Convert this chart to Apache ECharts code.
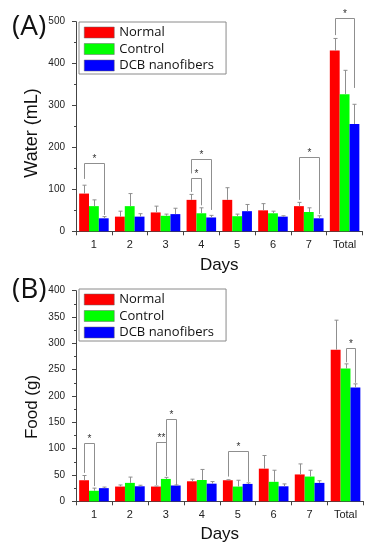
<!DOCTYPE html>
<html>
<head>
<meta charset="utf-8">
<script src="https://cdn.jsdelivr.net/npm/echarts@6/dist/echarts.min.js"></script>
<style>html,body{margin:0;padding:0;background:#fff;}#c{width:378px;height:550px;}</style>
</head>
<body>
<div id="c"></div>
<script>
const categories = ['1','2','3','4','5','6','7','Total'];
const seriesNames = ['Normal','Control','DCB nanofibers'];
const seriesColors = ['#ff0000','#00ff00','#0000ff'];

// (A) Water (mL)
const waterNormal = [90, 35, 45, 75, 75, 50, 60, 431];
const waterNormalSD = [20, 13, 15, 13, 29, 16, 9, 29];
const waterControl = [60, 60, 37, 43, 36, 43, 46, 327];
const waterControlSD = [15, 30, 4, 13, 5, 5, 10, 57];
const waterDCB = [31, 35, 41, 33, 48, 35, 31, 256];
const waterDCBSD = [4, 7, 14, 5, 16, 2, 6, 47];
// significance brackets: [category, fromSeries, toSeries, topValue, leftLegEnd, rightLegEnd]
const waterSig = [[0,0,2,164,125,39],[3,0,1,126,94,62],[3,0,2,172,138,51],[6,0,2,177,75,41],[7,0,2,510,468,342]];
const waterSigLabels = ['*','*','*','*','*'];
const waterTicks = [0, 100, 200, 300, 400, 500];

// (B) Food (g)
const foodNormal = [40, 28, 28, 38, 40, 62, 51, 288];
const foodNormalSD = [9, 3, 1, 4, 1, 25, 20, 56];
const foodControl = [20, 35, 42.5, 40.5, 28, 37, 47, 252];
const foodControlSD = [5, 11, 3, 20, 12, 22, 12, 9];
const foodDCB = [25, 28.5, 30, 33.5, 33, 28.5, 35, 216];
const foodDCBSD = [2, 2, 1, 4, 2, 4.5, 4, 7];
const foodSig = [[0,0,1,110,54,29],[2,0,1,113,31,48],[2,1,2,157,48,31],[4,0,2,96,47,37],[7,1,2,292,264,225]];
const foodSigLabels = ['*','**','*','*','*'];
const foodTicks = [0, 50, 100, 150, 200, 250, 300, 350, 400];

const BAR_FRAC = 0.275;
const chart = echarts.init(document.getElementById('c'), null, {renderer:'canvas'});

function errData(means, sds){
  const d=[];
  means.forEach((m,s)=>{ m.forEach((v,c)=>{ d.push([c, s, v, sds[s][c]]); }); });
  return d;
}
function errRender(params, api){
  const c=api.value(0), s=api.value(1), m=api.value(2), e=api.value(3);
  const bw=api.size([1,0])[0]*BAR_FRAC;
  const p0=api.coord([c,m]), p1=api.coord([c,m+e]);
  const x=Math.round(p0[0]+(s-1)*bw)+0.5;
  const st={stroke:'#8f8f8f', lineWidth:1};
  return {type:'group', children:[
    {type:'line', shape:{x1:x,y1:p0[1],x2:x,y2:p1[1]}, style:st},
    {type:'line', shape:{x1:x-2,y1:p1[1],x2:x+2,y2:p1[1]}, style:st}
  ]};
}
function sigRender(labels){
  return function(params, api){
    const c=api.value(0), f=api.value(1), t=api.value(2), top=api.value(3), lb=api.value(4), rb=api.value(5);
    const bw=api.size([1,0])[0]*BAR_FRAC;
    const pt=api.coord([c,top]);
    const xl=Math.round(pt[0]+(f-1)*bw)+0.5, xr=Math.round(pt[0]+(t-1)*bw)+0.5;
    const yt=Math.round(pt[1])+0.5, yl=api.coord([c,lb])[1], yr=api.coord([c,rb])[1];
    return {type:'group', children:[
      {type:'polyline', shape:{points:[[xl,yl],[xl,yt],[xr,yt],[xr,yr]]}, style:{stroke:'#8f8f8f', lineWidth:1, fill:null}},
      {type:'text', style:{text:labels[params.dataIndex], x:(xl+xr)/2, y:yt+1, align:'center', verticalAlign:'bottom', font:'10px "Liberation Sans"', fill:'#333'}}
    ]};
  };
}

function xAxisCfg(i, gap){
  return {type:'category', gridIndex:i, data:categories,
    name:'Days', nameLocation:'middle', nameGap:gap,
    nameTextStyle:{fontFamily:'Liberation Sans', fontSize:17, color:'#111'},
    axisLine:{lineStyle:{color:'#444', width:1}},
    axisTick:{show:true, alignWithLabel:false, length:4, lineStyle:{color:'#444'}},
    axisLabel:{fontFamily:'Liberation Sans', fontSize:11, color:'#222', margin:8},
    splitLine:{show:false}};
}
function yAxisCfg(i, ticks){
  return {type:'value', gridIndex:i, min:ticks[0], max:ticks[ticks.length-1], interval:ticks[1]-ticks[0],
    axisLine:{show:true, lineStyle:{color:'#444', width:1}},
    axisTick:{show:true, length:4, lineStyle:{color:'#444'}},
    minorTick:{show:true, splitNumber:2, length:2, lineStyle:{color:'#444'}},
    axisLabel:{fontFamily:'Liberation Sans', fontSize:10, color:'#222', margin:11},
    splitLine:{show:false}};
}
function legendCfg(top){
  return {orient:'vertical', left:79, top:top, data:seriesNames,
    padding:[3.5,12,1.5,5], itemGap:2.5, itemWidth:30, itemHeight:11, itemTextGap:6,
    icon:'rect', borderColor:'#8a8a8a', borderWidth:1, backgroundColor:'#fff',
    itemStyle:{borderColor:'#666', borderWidth:0.5},
    textStyle:{fontFamily:'Open Sans', fontSize:13, lineHeight:14, color:'#111'}};
}
function bars(gi, arrs){
  return arrs.map((a,s)=>({type:'bar', name:seriesNames[s], xAxisIndex:gi, yAxisIndex:gi, data:a,
    barWidth:(BAR_FRAC*100)+'%', barGap:'0%', itemStyle:{color:seriesColors[s]}, z:2}));
}

const option = {
  animation:false,
  grid:[{left:76, top:21.7, width:286.5, height:209.6},{left:76, top:290.7, width:287.5, height:210.6}],
  legend:[legendCfg(22), legendCfg(289)],
  xAxis:[xAxisCfg(0,26), xAxisCfg(1,25)],
  yAxis:[yAxisCfg(0, waterTicks), yAxisCfg(1, foodTicks)],
  series:[
    ...bars(0,[waterNormal,waterControl,waterDCB]),
    ...bars(1,[foodNormal,foodControl,foodDCB]),
    {type:'custom', xAxisIndex:0, yAxisIndex:0, z:3, clip:false, encode:{x:0,y:2},
      data:errData([waterNormal,waterControl,waterDCB],[waterNormalSD,waterControlSD,waterDCBSD]), renderItem:errRender},
    {type:'custom', xAxisIndex:1, yAxisIndex:1, z:3, clip:false, encode:{x:0,y:2},
      data:errData([foodNormal,foodControl,foodDCB],[foodNormalSD,foodControlSD,foodDCBSD]), renderItem:errRender},
    {type:'custom', xAxisIndex:0, yAxisIndex:0, z:4, clip:false, encode:{x:0,y:3}, data:waterSig, renderItem:sigRender(waterSigLabels)},
    {type:'custom', xAxisIndex:1, yAxisIndex:1, z:4, clip:false, encode:{x:0,y:3}, data:foodSig, renderItem:sigRender(foodSigLabels)}
  ],
  graphic:[
    {type:'text', x:12, y:27, style:{text:'(A)', font:'28px "Open Sans"', fill:'#111', verticalAlign:'middle'}},
    {type:'text', x:12, y:290, style:{text:'(B)', font:'28px "Open Sans"', fill:'#111', verticalAlign:'middle'}},
    {type:'text', x:32.5, y:133, rotation:Math.PI/2, style:{text:'Water (mL)', font:'18px "Liberation Sans"', fill:'#111', align:'center', verticalAlign:'middle'}},
    {type:'text', x:32, y:407, rotation:Math.PI/2, style:{text:'Food (g)', font:'17px "Liberation Sans"', fill:'#111', align:'center', verticalAlign:'middle'}}
  ]
};
chart.setOption(option);
</script>
</body>
</html>
